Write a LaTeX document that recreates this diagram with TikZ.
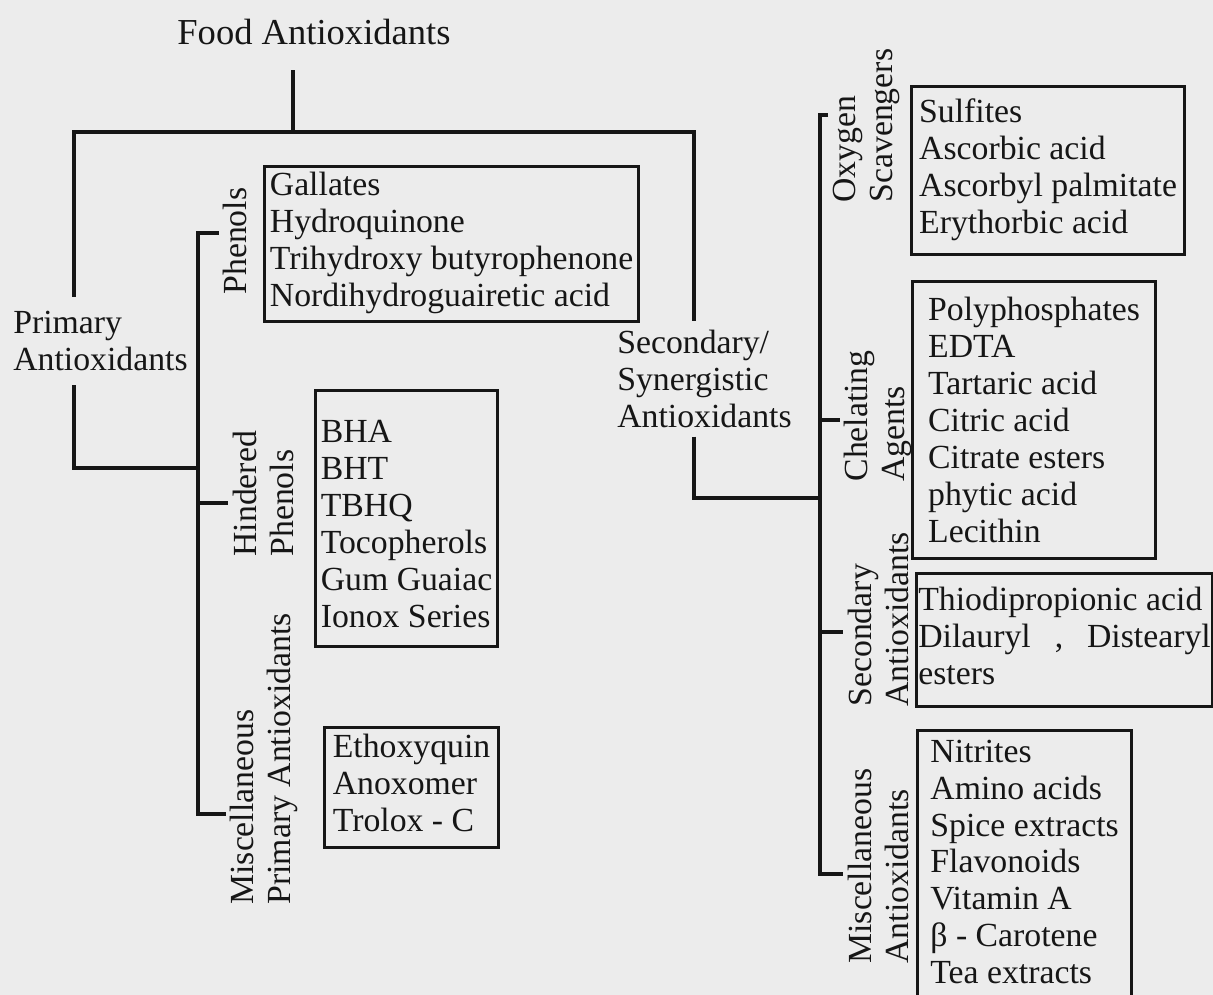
\documentclass[tikz,border=0pt]{standalone}
\usepackage{fontspec}
\setmainfont{Liberation Serif}
\usepackage{tikz}
\usetikzlibrary{positioning}
\definecolor{ink}{RGB}{22,22,22}
\definecolor{paper}{RGB}{236,236,236}
% left-aligned column of entries inside a box
\newcommand{\itemstack}[1]{\begin{tabular}{@{}l@{}}#1\end{tabular}}

\begin{document}
\begin{tikzpicture}[
    x=0.025cm, y=-0.025cm,
    % node styles
    listbox/.style = {
      draw=ink,
      line width=2.2pt,
      inner sep=0pt,
      anchor=north west,
      text=ink,
      font=\fontsize{24}{26.3}\selectfont
    },
    sidelab/.style = {
      rotate=90,
      anchor=west,
      inner sep=3pt,
      align=left,
      text=ink,
      font=\fontsize{24}{26.3}\selectfont
    },
    headlab/.style = {
      anchor=west,
      inner xsep=0pt,
      align=left,
      text=ink,
      font=\fontsize{24}{26.3}\selectfont
    },
    % line styles
    link/.style = {line width=2.2pt, draw=ink}
  ]

  \useasboundingbox[fill=paper] (0,0) rectangle (1213,995);
  \clip (0,0) rectangle (1213,995);

  % --- Nodes
  \node[text=ink, font=\fontsize{26}{28}\selectfont] (food) at (314,32) {Food Antioxidants};

  \node[headlab, inner ysep=10pt] (primlab) at (13,341) {Primary\\Antioxidants};
  \node[headlab, inner ysep=6pt] (seclab) at (617,379) {Secondary/\\Synergistic\\Antioxidants};

  \node[sidelab] (phenlab) at (235,299) {Phenols};
  \node[sidelab] (hindlab) at (263,561) {Hindered\\Phenols};
  \node[sidelab] (mplab) at (264,909) {Miscellaneous\\Primary Antioxidants};

  \node[sidelab] (oxylab) at (866,207) {Oxygen\\Scavengers};
  \node[sidelab] (chelab) at (878,486) {Chelating\\Agents};
  \node[sidelab] (sadlab) at (878,711) {Secondary\\Antioxidants};
  \node[sidelab] (mislab) at (878,968) {Miscellaneous\\Antioxidants};

  \node[listbox, minimum width=9.35cm, minimum height=3.875cm] (phebox) at (263,165)
    {\itemstack{Gallates\\Hydroquinone\\Trihydroxy butyrophenone\\Nordihydroguairetic acid}};
  \node[listbox, minimum width=4.55cm, minimum height=6.4cm] (hinbox) at (314,389)
    {\raisebox{-6.4pt}[\height][\depth]{\itemstack{BHA\\BHT\\TBHQ\\Tocopherols\\Gum Guaiac\\Ionox Series}}};
  \node[listbox, minimum width=4.35cm, minimum height=3cm] (mpbox) at (323,726)
    {\itemstack{Ethoxyquin\\Anoxomer\\Trolox - C}};

  \node[listbox, minimum width=6.825cm, minimum height=4.2cm] (oxybox) at (910,85)
    {\itemstack{Sulfites\\Ascorbic acid\\Ascorbyl palmitate\\Erythorbic acid}};
  \node[listbox, minimum width=6.075cm, minimum height=6.925cm] (chebox) at (911,280)
    {\raisebox{-3pt}[\height][\depth]{\itemstack{Polyphosphates\\EDTA\\Tartaric acid\\Citric acid\\Citrate esters\\phytic acid\\Lecithin}}};
  \node[listbox, minimum width=7.4cm, minimum height=3.325cm] (sadbox) at (915,572)
    {\itemstack{Thiodipropionic acid\\\makebox[208pt]{Dilauryl\hfill,\hfill Distearyl}\\esters}};
  \node[listbox, minimum width=5.35cm, minimum height=6.75cm] (misbox) at (916,729)
    {\itemstack{Nitrites\\Amino acids\\Spice extracts\\Flavonoids\\Vitamin A\\β - Carotene\\Tea extracts}};

  % --- Lines
  \coordinate (stemtop) at (293,70);
  \coordinate (split) at (293,132);
  \coordinate (lcorner) at (74,132);
  \coordinate (rcorner) at (694,132);
  \coordinate (pjoin) at (198,468);
  \coordinate (ptop) at (198,233);
  \coordinate (pmid) at (198,503);
  \coordinate (pend) at (198,814);
  \coordinate (sjoin) at (820,498);
  \coordinate (s1) at (820,115);
  \coordinate (s2) at (820,420);
  \coordinate (s3) at (820,632);
  \coordinate (s4) at (820,874);

  \draw[link] (stemtop) -- (split);
  \draw[link] (lcorner |- primlab.north) -- (lcorner) -- (rcorner) -- (rcorner |- seclab.north);
  \draw[link] (lcorner |- primlab.south) |- (pjoin);
  \draw[link] (rcorner |- seclab.south) |- (sjoin);

  \draw[link] (phenlab.north |- ptop) -- (ptop) -- (pend) -- (mplab.north |- pend);
  \draw[link] (pmid) -- (hindlab.north |- pmid);

  \draw[link] (oxylab.north |- s1) -- (s1) -- (s4) -- (mislab.north |- s4);
  \draw[link] (s2) -- (chelab.north |- s2);
  \draw[link] (s3) -- (sadlab.north |- s3);

\end{tikzpicture}
\end{document}
